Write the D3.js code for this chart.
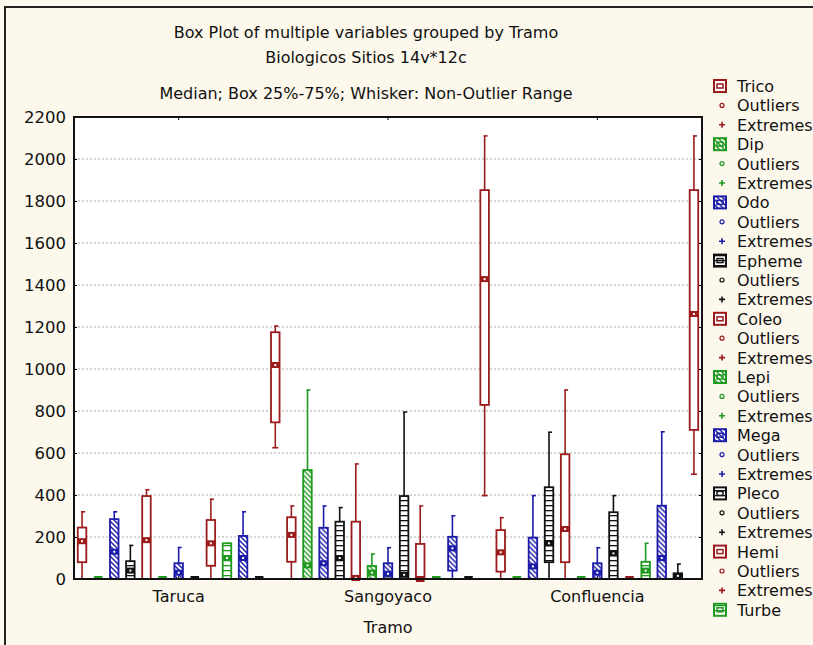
<!DOCTYPE html>
<html>
<head>
<meta charset="utf-8">
<style>
  body { margin: 0; background: #fdf8ec; }
  text { font-family: "DejaVu Sans", sans-serif; fill: #111; }
</style>
</head>
<body>
<svg id="chart" width="813" height="645"></svg>
<script src="https://cdn.jsdelivr.net/npm/d3@7"></script>
<script>
// categories
const tramos = ["Taruca", "Sangoyaco", "Confluencia"]
const variables = ["Trico", "Dip", "Odo", "Epheme", "Coleo", "Lepi", "Mega", "Pleco", "Hemi", "Turbe", "Var11", "Var12", "Var13"]
const yTicks = [0, 200, 400, 600, 800, 1000, 1200, 1400, 1600, 1800, 2000, 2200]

// [whisker low, Q1, median, Q3, whisker high] per variable
const taruca = [
    [0, 80, 180, 245, 320], [0, 0, 0, 0, 0], [0, 0, 130, 285, 320], [0, 0, 40, 85, 160],
    [0, 0, 185, 395, 425], [0, 0, 0, 0, 0], [0, 0, 30, 75, 150], [0, 0, 0, 0, 0],
    [0, 63, 170, 281, 380], [0, 0, 100, 170, 170], [0, 0, 100, 205, 320], [0, 0, 0, 0, 0],
    [625, 746, 1019, 1175, 1205]
]
const sangoyaco = [
    [0, 82, 210, 294, 348], [0, 0, 65, 519, 900], [0, 0, 75, 244, 348], [0, 0, 100, 273, 340],
    [0, 0, 5, 273, 548], [0, 0, 30, 62, 119], [0, 0, 25, 75, 149], [0, 0, 20, 395, 795],
    [0, 0, 0, 167, 348], [0, 0, 0, 0, 0], [0, 40, 146, 201, 301], [0, 0, 0, 0, 0],
    [397, 829, 1428, 1852, 2110]
]
const confluencia = [
    [0, 35, 127, 233, 292], [0, 0, 0, 0, 0], [0, 0, 60, 197, 397], [0, 80, 170, 437, 699],
    [0, 80, 238, 594, 900], [0, 0, 0, 0, 0], [0, 0, 30, 75, 149], [0, 0, 122, 318, 397],
    [0, 0, 0, 0, 0], [0, 0, 40, 82, 170], [0, 0, 100, 349, 701], [0, 0, 15, 27, 71],
    [499, 710, 1262, 1852, 2110]
]
const stats = [taruca, sangoyaco, confluencia]

// styles
const palette = ["#9b1b1b", "#1f9a1f", "#1c1ca8", "#111111"]
const fills = ["none", "diag", "diag", "ladder", "none", "diag", "diag", "ladder", "none", "ladder", "diag", "ladder", "none"]

let svg = d3.select("#chart")
svg.append("rect").attr("width", 813).attr("height", 645).attr("fill", "#fdf8ec")

// outer frame (only top/left visible)
svg.append("path").attr("d", "M5,645 V7 H813").attr("fill", "none").attr("stroke", "#222").attr("stroke-width", 2)

let defs = svg.append("defs")
palette.forEach((c, i) => {
    let p = defs.append("pattern").attr("id", "diag" + i).attr("patternUnits", "userSpaceOnUse")
        .attr("width", 5).attr("height", 5)
    p.append("rect").attr("width", 5).attr("height", 5).attr("fill", "white")
    p.append("path").attr("d", "M0,0 L5,5 M-1,4 L1,6 M4,-1 L6,1").attr("stroke", c).attr("stroke-width", 1.4)
    let l = defs.append("pattern").attr("id", "ladder" + i).attr("patternUnits", "userSpaceOnUse")
        .attr("width", 4).attr("height", 5)
    l.append("rect").attr("width", 4).attr("height", 5).attr("fill", "white")
    l.append("path").attr("d", "M0,0.5 H4").attr("stroke", c).attr("stroke-width", 1.6)
})
function fillOf(i) {
    let c = i % 4
    return fills[i] == "none" ? "white" : "url(#" + fills[i] + c + ")"
}

let pLeft = 74, pRight = 702, pTop = 117, pBottom = 579

let x0 = d3.scaleBand().domain(tramos).range([pLeft, pRight])
let x1 = d3.scaleBand().domain(variables).range([0, x0.bandwidth()])
    .paddingInner(0.47).paddingOuter(0.235)
let y = d3.scaleLinear().domain([0, 2200]).range([pBottom, pTop])

svg.append("rect").attr("x", pLeft).attr("y", pTop).attr("width", pRight - pLeft).attr("height", pBottom - pTop)
    .attr("fill", "white")

// grid
svg.append("g").selectAll("line")
    .data(yTicks.filter(d => d > 0 && d < 2200))
    .enter().append("line")
    .attr("x1", pLeft).attr("x2", pRight)
    .attr("y1", d => y(d)).attr("y2", d => y(d))
    .attr("stroke", "#aaa").attr("stroke-dasharray", "2,2").attr("stroke-width", 1)

// titles
svg.append("text").attr("x", 366).attr("y", 38).attr("text-anchor", "middle").style("font-size", "16px")
    .text("Box Plot of multiple variables grouped by Tramo")
svg.append("text").attr("x", 366).attr("y", 63).attr("text-anchor", "middle").style("font-size", "16px")
    .text("Biologicos Sitios 14v*12c")
svg.append("text").attr("x", 366).attr("y", 99).attr("text-anchor", "middle").style("font-size", "16px")
    .text("Median; Box 25%-75%; Whisker: Non-Outlier Range")

// boxes
let body = svg.append("g")
tramos.forEach((t, ti) => {
    let g = body.append("g").attr("transform", "translate(" + x0(t) + ",0)")
    variables.forEach((v, vi) => {
        let s = stats[ti][vi]
        let col = palette[vi % 4]
        let bw = x1.bandwidth()
        let bx = x1(v)
        let cx = bx + bw / 2
        g.append("line").attr("x1", cx).attr("x2", cx).attr("y1", y(s[0])).attr("y2", y(s[4]))
            .attr("stroke", col).attr("stroke-width", 1.6)
        // caps
        g.append("line").attr("x1", cx - 1).attr("x2", cx + 3).attr("y1", y(s[4])).attr("y2", y(s[4]))
            .attr("stroke", col).attr("stroke-width", 1.6)
        if (s[0] > 0) {
            g.append("line").attr("x1", cx - 3).attr("x2", cx + 3).attr("y1", y(s[0])).attr("y2", y(s[0]))
                .attr("stroke", col).attr("stroke-width", 1.6)
        }
        if (s[3] - s[1] < 10) {
            g.append("rect").attr("x", bx).attr("y", y(s[3]) - 3).attr("width", bw).attr("height", 3)
                .attr("fill", col)
            return
        }
        g.append("rect").attr("x", bx).attr("y", y(s[3])).attr("width", bw).attr("height", y(s[1]) - y(s[3]))
            .attr("fill", fillOf(vi)).attr("stroke", col).attr("stroke-width", 1.8)
        g.append("rect").attr("x", bx).attr("y", y(s[2]) - 3).attr("width", bw).attr("height", 6)
            .attr("fill", col)
        g.append("rect").attr("x", cx - 1).attr("y", y(s[2]) - 1).attr("width", 2).attr("height", 2)
            .attr("fill", "white")
    })
})

// axes
let yAxis = d3.axisLeft(y).tickValues(yTicks).tickFormat(d3.format("d"))
    .tickSizeInner(-3).tickSizeOuter(0).tickPadding(8)
let ga = svg.append("g").attr("transform", "translate(" + pLeft + ",0)").call(yAxis)
ga.select(".domain").remove()
ga.selectAll("text").style("font-size", "16.5px").style("font-family", "DejaVu Sans")

let rAxis = d3.axisRight(y).tickValues(yTicks).tickSizeInner(-3).tickSizeOuter(0).tickFormat("")
svg.append("g").attr("transform", "translate(" + pRight + ",0)").call(rAxis).select(".domain").remove()

let xAxis = d3.axisBottom(x0).tickSizeInner(-3).tickSizeOuter(0).tickPadding(12)
let gx = svg.append("g").attr("transform", "translate(0," + pBottom + ")").call(xAxis)
gx.select(".domain").remove()
gx.selectAll("text").style("font-size", "16px").style("font-family", "DejaVu Sans")

let tAxis = d3.axisTop(x0).tickSizeInner(-3).tickSizeOuter(0).tickFormat("")
svg.append("g").attr("transform", "translate(0," + pTop + ")").call(tAxis).select(".domain").remove()

svg.append("rect").attr("x", pLeft).attr("y", pTop).attr("width", pRight - pLeft).attr("height", pBottom - pTop)
    .attr("fill", "none").attr("stroke", "#111").attr("stroke-width", 2)

svg.append("text").attr("x", 388).attr("y", 633).attr("text-anchor", "middle").style("font-size", "16px")
    .text("Tramo")

// legend
let legendItems = []
variables.forEach((v, i) => {
    legendItems.push({ kind: "box", label: v, i: i })
    legendItems.push({ kind: "out", label: "Outliers", i: i })
    legendItems.push({ kind: "ext", label: "Extremes", i: i })
})
let lg = svg.append("g")
legendItems.forEach((d, k) => {
    let cy = 86 + k * 19.4
    if (cy > 615) return
    let col = palette[d.i % 4]
    if (d.kind == "box") {
        lg.append("rect").attr("x", 714).attr("y", cy - 6).attr("width", 12).attr("height", 12)
            .attr("fill", fillOf(d.i)).attr("stroke", col).attr("stroke-width", 2)
        lg.append("rect").attr("x", 717).attr("y", cy - 2).attr("width", 6).attr("height", 4)
            .attr("fill", "none").attr("stroke", col).attr("stroke-width", 1.5)
    } else if (d.kind == "out") {
        lg.append("circle").attr("cx", 722).attr("cy", cy).attr("r", 2).attr("fill", "none")
            .attr("stroke", col).attr("stroke-width", 1.2)
    } else {
        lg.append("path").attr("d", "M719," + cy + " h6 M722," + (cy - 3) + " v6")
            .attr("stroke", col).attr("stroke-width", 1.6)
    }
    lg.append("text").attr("x", 737).attr("y", cy + 6).style("font-size", "16px").text(d.label)
})
</script>
</body>
</html>
